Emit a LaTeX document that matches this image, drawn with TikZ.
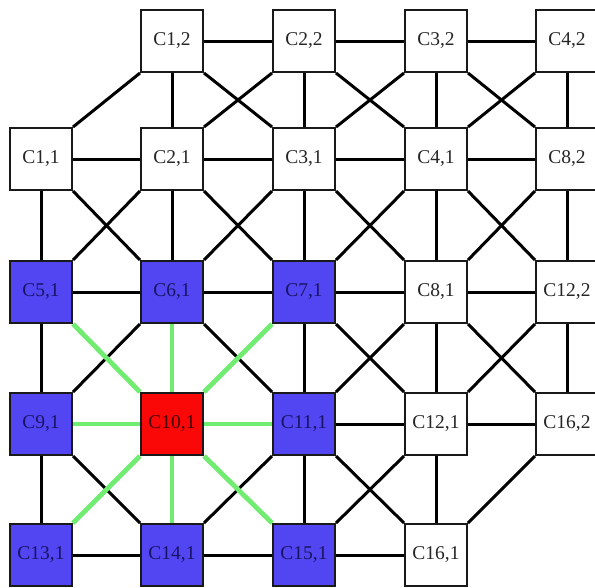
\documentclass[tikz,border=0pt]{standalone}
\usepackage{fontspec}
\setmainfont{Liberation Serif}
\definecolor{cblue}{RGB}{82,70,242}
\definecolor{cbluetext}{RGB}{24,20,100}
\definecolor{cred}{RGB}{250,8,8}
\definecolor{credtext}{RGB}{70,0,0}
\definecolor{cgreen}{RGB}{112,236,112}
\pgfdeclarelayer{background}
\pgfsetlayers{background,main}
\begin{document}
\begin{tikzpicture}[x=1pt,y=-1pt,
  cell/.style={draw=black!90, line width=2pt, minimum width=62pt, minimum height=62pt,
    inner sep=0pt, font=\fontsize{19.5}{19.5}\selectfont, fill=white, text=black!85},
  bluecell/.style={cell, fill=cblue, text=cbluetext},
  redcell/.style={cell, fill=cred, text=credtext},
  link/.style={line width=3pt, draw=black},
  glink/.style={line width=4.8pt, draw=cgreen}]
\useasboundingbox (0,0) rectangle (595,587);
\clip (0,0) rectangle (595,587);
% columns x: 41,172,304,436,567 ; rows y: 41,159,292,424,555
\node[cell] (n10) at (172,41) {C1,2};
\node[cell] (n20) at (304,41) {C2,2};
\node[cell] (n30) at (436,41) {C3,2};
\node[cell] (n40) at (567,41) {C4,2};
\node[cell] (n01) at (41,159) {C1,1};
\node[cell] (n11) at (172,159) {C2,1};
\node[cell] (n21) at (304,159) {C3,1};
\node[cell] (n31) at (436,159) {C4,1};
\node[cell] (n41) at (567,159) {C8,2};
\node[bluecell] (n02) at (41,292) {C5,1};
\node[bluecell] (n12) at (172,292) {C6,1};
\node[bluecell] (n22) at (304,292) {C7,1};
\node[cell] (n32) at (436,292) {C8,1};
\node[cell] (n42) at (567,292) {C12,2};
\node[bluecell] (n03) at (41,424) {C9,1};
\node[redcell] (n13) at (172,424) {C10,1};
\node[bluecell] (n23) at (304,424) {C11,1};
\node[cell] (n33) at (436,424) {C12,1};
\node[cell] (n43) at (567,424) {C16,2};
\node[bluecell] (n04) at (41,555) {C13,1};
\node[bluecell] (n14) at (172,555) {C14,1};
\node[bluecell] (n24) at (304,555) {C15,1};
\node[cell] (n34) at (436,555) {C16,1};
\begin{pgfonlayer}{background}
% horizontal
\foreach \a/\b in {n10/n20,n20/n30,n30/n40,n01/n11,n11/n21,n21/n31,n31/n41,
  n02/n12,n12/n22,n22/n32,n32/n42,n23/n33,n33/n43,n04/n14,n14/n24,n24/n34}
  \draw[link] (\a.east) -- (\b.west);
% vertical
\foreach \a/\b in {n10/n11,n20/n21,n30/n31,n40/n41,n01/n02,n11/n12,n21/n22,n31/n32,n41/n42,
  n02/n03,n22/n23,n32/n33,n42/n43,n03/n04,n23/n24,n33/n34}
  \draw[link] (\a.south) -- (\b.north);
% diagonal down-right
\foreach \a/\b in {n10/n21,n20/n31,n30/n41,n01/n12,n11/n22,n21/n32,n31/n42,
  n12/n23,n22/n33,n32/n43,n03/n14,n23/n34}
  \draw[link] (\a.south east) -- (\b.north west);
% diagonal down-left
\foreach \a/\b in {n10/n01,n20/n11,n30/n21,n40/n31,n11/n02,n21/n12,n31/n22,n41/n32,
  n12/n03,n32/n23,n42/n33,n23/n14,n33/n24,n43/n34}
  \draw[link] (\a.south west) -- (\b.north east);
% green links of C10,1
\draw[glink] (n03.east) -- (n13.west);
\draw[glink] (n13.east) -- (n23.west);
\draw[glink] (n12.south) -- (n13.north);
\draw[glink] (n13.south) -- (n14.north);
\draw[glink] (n02.south east) -- (n13.north west);
\draw[glink] (n13.south east) -- (n24.north west);
\draw[glink] (n22.south west) -- (n13.north east);
\draw[glink] (n13.south west) -- (n04.north east);
\end{pgfonlayer}
\end{tikzpicture}
\end{document}
